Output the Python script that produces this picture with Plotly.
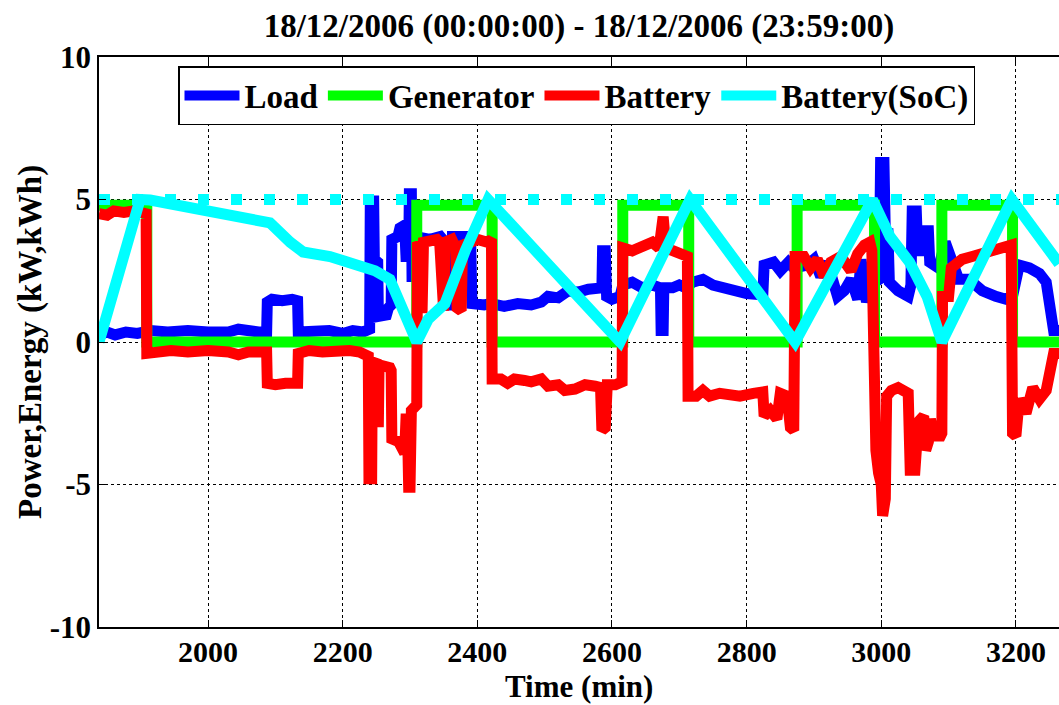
import plotly.graph_objects as go

# ---------------- data ----------------
load_time = [1838, 1850, 1862, 1878, 1895, 1915, 1940, 1970, 2000, 2030, 2045, 2060, 2075, 2087,
             2088, 2095, 2110, 2125, 2133,
             2134, 2160, 2180, 2200, 2215, 2230, 2240,
             2241, 2246, 2247, 2252, 2253, 2265, 2268, 2272,
             2273, 2282, 2285, 2292, 2294, 2298, 2299, 2302, 2303, 2306, 2308, 2330, 2345, 2352,
             2353, 2362, 2363, 2385, 2390,
             2392, 2410, 2420, 2440, 2460, 2480, 2495, 2505, 2520, 2535, 2550, 2565, 2580, 2585,
             2586, 2590, 2592, 2600, 2612, 2616, 2630, 2645, 2660, 2672,
             2673, 2676, 2677, 2690, 2700, 2710, 2720, 2735, 2750, 2765, 2780, 2800, 2824,
             2826, 2840, 2850, 2862, 2870, 2890, 2900, 2910, 2920, 2935, 2945, 2955, 2965, 2970,
             2978, 2985, 2997, 2999, 3004, 3006, 3010, 3012, 3025, 3040, 3044,
             3046, 3052, 3054, 3063, 3065, 3070, 3072, 3085, 3095, 3105, 3115, 3130, 3150, 3170,
             3185, 3195, 3205, 3220, 3235, 3245, 3250, 3256, 3264]
load_kw = [0.25, 0.35, 0.25, 0.35, 0.3, 0.4, 0.35, 0.4, 0.35, 0.35, 0.45, 0.35, 0.35, 0.35,
           1.4, 1.5, 1.45, 1.5, 1.45,
           0.35, 0.35, 0.4, 0.3, 0.4, 0.35, 0.45,
           4.95, 4.95, 2.9, 2.8, 0.9, 0.95, 1.2, 1.3,
           3.6, 3.7, 4.0, 4.1, 3.0, 3.0, 5.2, 5.2, 2.3, 2.3, 3.7, 3.6, 3.7, 3.5,
           1.3, 1.3, 3.7, 3.7, 3.6,
           1.35, 1.3, 1.35, 1.25, 1.35, 1.3, 1.4, 1.6, 1.55, 1.8, 1.75, 1.85, 1.9, 1.9,
           3.2, 3.2, 1.6, 1.5, 1.6, 2.0, 2.1, 1.9, 2.0, 1.9,
           0.4, 0.4, 1.9, 1.9, 2.0, 1.9, 2.1, 2.2, 2.0, 1.9, 1.8, 1.7, 1.65,
           2.7, 2.8, 2.5, 2.8, 2.6, 2.7, 2.9, 2.3, 2.8, 1.6, 1.8, 2.2, 1.5, 2.9,
           1.4, 2.0, 2.2, 6.3, 6.3, 3.8, 3.8, 2.1, 1.8, 1.6, 2.0,
           4.6, 4.6, 3.2, 3.2, 3.9, 3.9, 2.8, 2.6, 3.5, 2.8, 2.2, 2.2, 1.8, 1.6,
           1.5, 1.6, 2.7, 2.6, 2.4, 2.1, 1.5, 0.4, 0.4]

gen_time = [1838, 1909, 1909, 2310, 2310, 2422, 2422, 2616, 2616, 2714, 2714, 2875, 2875,
            2990, 2990, 3090, 3090, 3195, 3195, 3264]
gen_kw = [4.8, 4.8, 0, 0, 4.8, 4.8, 0, 0, 4.8, 4.8, 0, 0, 4.8, 4.8, 0, 0, 4.8, 4.8, 0, 0]

batt_time = [1838, 1850, 1860, 1875, 1890, 1905, 1908,
             1909, 1925, 1945, 1970, 2000, 2030, 2045, 2060, 2080, 2087,
             2088, 2100, 2115, 2125, 2133,
             2134, 2150, 2170, 2190, 2210, 2225, 2232, 2238,
             2239, 2243, 2244, 2250, 2251, 2253, 2254, 2265, 2270, 2272,
             2273, 2283, 2288, 2292, 2294, 2296, 2298, 2300, 2302, 2308, 2310,
             2311, 2314, 2316, 2318, 2320, 2330, 2340, 2344, 2346, 2350, 2352, 2362, 2368, 2370,
             2376, 2378, 2390, 2400, 2415, 2421,
             2422, 2435, 2445, 2455, 2470, 2480, 2495, 2505, 2520, 2530, 2545, 2560, 2575, 2583,
             2585, 2590, 2593, 2605, 2615,
             2616, 2630, 2645, 2660, 2670, 2673, 2676, 2680, 2695, 2705, 2712,
             2713, 2725, 2735, 2745, 2760, 2775, 2790, 2810, 2824, 2826, 2835, 2845, 2850, 2860,
             2865, 2870,
             2872, 2885, 2895, 2905, 2915, 2925, 2940, 2955, 2965, 2975, 2983, 2986,
             2988, 2992, 2996, 3000, 3002, 3006, 3008, 3015, 3025, 3035, 3040,
             3043, 3050, 3055, 3063, 3066, 3070, 3073, 3078, 3088, 3090,
             3091, 3100, 3104, 3112, 3120, 3135, 3150, 3165, 3180, 3193,
             3195, 3200, 3205, 3215, 3225, 3235, 3245, 3250, 3256, 3264]
batt_kw = [4.5, 4.45, 4.6, 4.55, 4.6, 4.55, 4.5,
           -0.4, -0.35, -0.3, -0.35, -0.3, -0.35, -0.45, -0.35, -0.3, -0.35,
           -1.45, -1.5, -1.45, -1.4, -1.45,
           -0.4, -0.3, -0.35, -0.3, -0.3, -0.35, -0.4, -0.5,
           -4.8, -4.8, -0.7, -0.75, -2.8, -2.8, -0.8, -0.85, -0.9, -1.0,
           -3.4, -3.5, -3.8, -3.9, -2.7, -2.7, -5.1, -5.1, -2.4, -2.3, -2.2,
           3.5, 3.4, 1.2, 1.2, 3.5, 3.6, 3.6, 3.5, 1.2, 1.1, 3.5, 3.6, 3.3, 1.2,
           1.1, 3.4, 3.5, 3.6, 3.5, 3.6,
           -1.3, -1.3, -1.45, -1.3, -1.35, -1.4, -1.3, -1.55, -1.5, -1.7, -1.65, -1.5, -1.55, -1.6,
           -3.1, -3.0, -1.5, -1.5, -1.4,
           3.3, 3.2, 3.4, 3.5, 3.3, 4.4, 4.4, 3.3, 3.2, 3.1, 3.0,
           -1.9, -1.9, -1.7, -1.9, -1.8, -1.85, -1.9, -1.8, -1.75, -2.6, -2.4, -2.7, -1.8, -1.9,
           -3.0, -3.1,
           3.0, 3.0, 2.6, 2.9, 2.3, 2.8, 3.0, 2.5, 3.1, 3.4, 3.5, 3.2,
           -2.0, -3.8, -4.6, -5.0, -6.1, -5.5, -1.9, -1.7, -1.6, -1.8, -1.8,
           -4.5, -4.5, -2.8, -2.6, -3.8, -3.5, -2.7, -3.3, -3.3, -3.2,
           1.6, 1.6, 2.6, 2.8, 2.9, 3.0, 3.1, 3.2, 3.4, 3.4,
           -3.2, -3.3, -2.0, -2.5, -1.6, -2.0, -1.7, -0.9, -0.4, -0.4]

soc_time = [1838, 1899, 1914, 2022, 2092, 2122, 2141, 2181, 2218, 2248, 2270, 2278, 2310,
            2327, 2352, 2382, 2416, 2612, 2716, 2872, 2987, 3013, 3042, 3068, 3090, 3194, 3264]
soc_kwh = [0.0, 5.0, 4.98, 4.53, 4.18, 3.5, 3.16, 3.0, 2.75, 2.5, 2.2, 1.75, 0.0,
           0.8, 1.35, 3.2, 5.0, 0.0, 5.0, 0.0, 5.0, 3.7, 2.8, 1.6, 0.0, 5.0, 2.75]

soc_max_time = [1838, 3264]
soc_max_kwh = [5, 5]

x_ticks = [2000, 2200, 2400, 2600, 2800, 3000, 3200]
y_ticks = [-10, -5, 0, 5, 10]
y_tick_text = ["-10", "-5", "0", "5", "10"]

title_text = "18/12/2006 (00:00:00) - 18/12/2006 (23:59:00)"
x_label = "Time (min)"
y_label = "Power,Energy (kW,kWh)"

# ---------------- figure ----------------
FONT = "Liberation Serif"
LW = 11
W, H = 1059, 705
ML, MR, MT, MB = 99, 0, 57, 78
PW, PH = W - ML - MR, H - MT - MB

fig = go.Figure()
fig.add_trace(go.Scatter(x=load_time, y=load_kw, mode="lines", name="Load",
                         line=dict(color="#0000ff", width=LW)))
fig.add_trace(go.Scatter(x=gen_time, y=gen_kw, mode="lines", name="Generator",
                         line=dict(color="#00ff00", width=LW)))
fig.add_trace(go.Scatter(x=batt_time, y=batt_kw, mode="lines", name="Battery",
                         line=dict(color="#ff0000", width=LW)))
fig.add_trace(go.Scatter(x=soc_time, y=soc_kwh, mode="lines", name="Battery(SoC)",
                         line=dict(color="#00ffff", width=LW)))
fig.add_trace(go.Scatter(x=soc_max_time, y=soc_max_kwh, mode="lines", showlegend=False,
                         line=dict(color="#00ffff", width=LW, dash="11px,22px")))

ytick_font = dict(family=FONT, size=31, color="black", weight="bold")
xtick_font = dict(family=FONT, size=30, color="black", weight="bold")
label_font = dict(family=FONT, size=33, color="black", weight="bold")
xlabel_font = dict(family=FONT, size=31, color="black", weight="bold")

axis_common = dict(
    showline=True, linecolor="black", linewidth=1.5,
    ticks="inside", ticklen=7, tickcolor="black", tickwidth=1,
    showgrid=True, gridcolor="black", gridwidth=1, griddash="dot",
    zeroline=False, automargin=False,
)

fig.update_layout(
    width=W, height=H,
    margin=dict(l=ML, r=MR, t=MT, b=MB, pad=0),
    paper_bgcolor="white", plot_bgcolor="white",
    title=dict(text=title_text, x=0.5, xref="paper", xanchor="center",
               y=1 - 25 / H, yref="container", yanchor="middle",
               font=label_font),
    xaxis=dict(range=[1838, 3264], tickmode="array", tickvals=x_ticks, mirror="ticks",
               tickfont=xtick_font, ticklabelstandoff=-3, **axis_common),
    yaxis=dict(range=[-10, 10], tickmode="array", tickvals=y_ticks, ticktext=y_tick_text,
               tickfont=ytick_font, **axis_common),
    legend=dict(orientation="h", x=(178 - ML) / PW, xanchor="left",
                y=(H - MB - 66) / PH, yanchor="top",
                bgcolor="white", bordercolor="black", borderwidth=1.5,
                itemwidth=55,
                font=dict(family=FONT, size=33, color="black", weight="bold")),
    showlegend=True,
    annotations=[
        dict(text=x_label, xref="paper", yref="paper", x=0.5, y=-(686 - (H - MB)) / PH,
             xanchor="center", yanchor="middle", showarrow=False, font=xlabel_font),
        dict(text=y_label, xref="paper", yref="paper", x=-(ML - 30) / PW, y=0.5,
             xanchor="center", yanchor="middle", textangle=-90, showarrow=False,
             font=label_font),
    ],
)

fig.write_html("out.html", config={"displayModeBar": False},
               post_script="document.body.style.margin='0px';")
